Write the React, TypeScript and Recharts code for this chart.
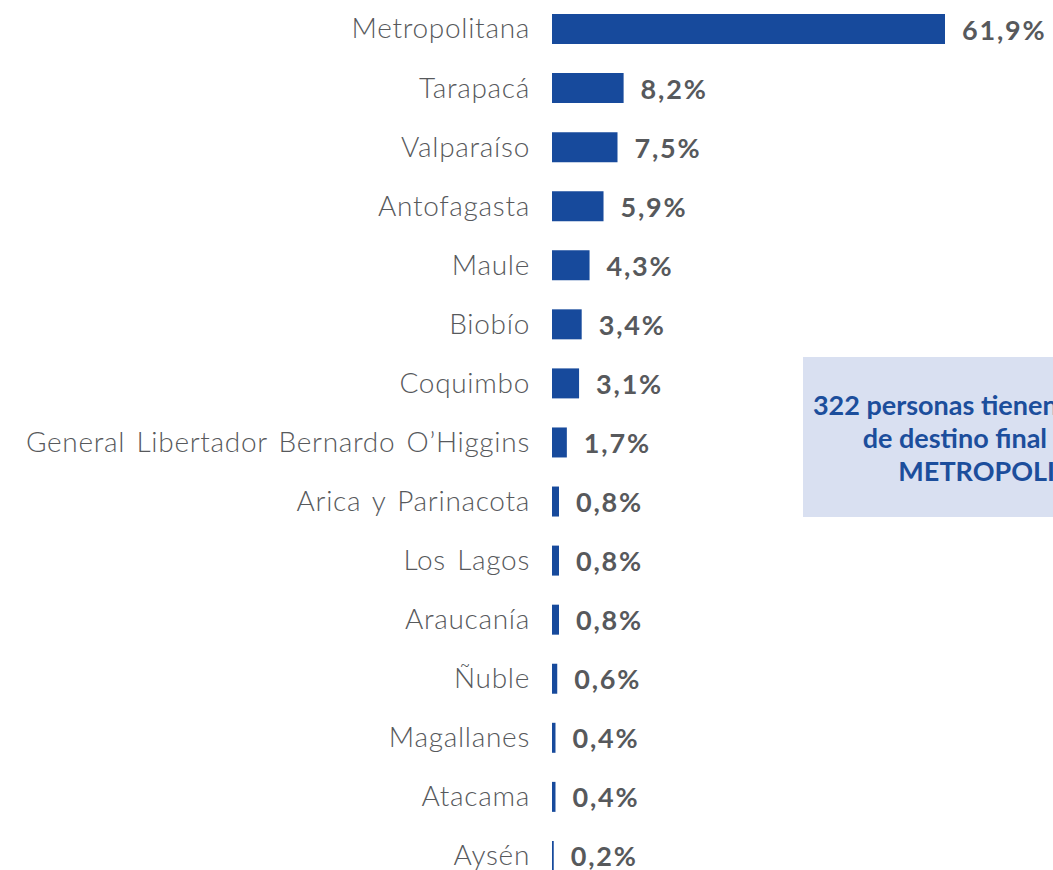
import { BarChart, Bar, XAxis, YAxis, LabelList } from "recharts";

// Región de destino final — share of people (%)
const regions = [
  "Metropolitana",
  "Tarapacá",
  "Valparaíso",
  "Antofagasta",
  "Maule",
  "Biobío",
  "Coquimbo",
  "General Libertador Bernardo O’Higgins",
  "Arica y Parinacota",
  "Los Lagos",
  "Araucanía",
  "Ñuble",
  "Magallanes",
  "Atacama",
  "Aysén",
];
const shares = [61.9, 8.2, 7.5, 5.9, 4.3, 3.4, 3.1, 1.7, 0.8, 0.8, 0.8, 0.6, 0.4, 0.4, 0.2];

const noteLines = ["322 personas tienen como región", "de destino final la Región", "METROPOLITANA"];

const BAR_COLOR = "#174a9c";
const TEXT_GRAY = "#57595c";
const CHART_W = 1053;
const CHART_H = 886;
const AXIS_W = 552;
const MARGIN_RIGHT = 108;
const PLOT_RIGHT = CHART_W - MARGIN_RIGHT;

const data = regions.map((region, i) => ({ region, share: shares[i] }));

const fmt = (v: number) => v.toFixed(1).replace(".", ",") + "%";

// the biggest bar is cut at the plot edge, so its label follows the visible end
function ValueLabel(props: any) {
  const { x, y, width, height, value } = props;
  const end = Math.min(Number(x) + Number(width), PLOT_RIGHT);
  return (
    <text
      x={end + 17}
      y={Number(y) + Number(height) / 2}
      dominantBaseline="central"
      fill={TEXT_GRAY}
      fontFamily="Lato, 'Open Sans', sans-serif"
      fontWeight={700}
      fontSize={27}
      letterSpacing={1.8}
    >
      {fmt(Number(value))}
    </text>
  );
}

export default function App() {
  return (
    <div
      style={{
        position: "absolute",
        top: 0,
        left: 0,
        width: 1053,
        height: 870,
        overflow: "hidden",
        background: "#fff",
      }}
    >
      <div style={{ position: "absolute", top: -1, left: 0 }}>
        <BarChart
          layout="vertical"
          width={CHART_W}
          height={CHART_H}
          data={data}
          margin={{ top: 0, right: MARGIN_RIGHT, bottom: 0, left: 0 }}
          barSize={30}
        >
          <XAxis type="number" domain={[0, 45]} allowDataOverflow hide />
          <YAxis
            type="category"
            dataKey="region"
            width={AXIS_W}
            axisLine={false}
            tickLine={false}
            tickSize={0}
            tickMargin={22}
            interval={0}
            tick={{
              fill: TEXT_GRAY,
              fontSize: 28,
              fontWeight: 300,
              letterSpacing: 0.7,
              wordSpacing: 3,
              fontFamily: "Lato, 'Open Sans', sans-serif",
            }}
          />
          <Bar dataKey="share" fill={BAR_COLOR} isAnimationActive={false}>
            <LabelList dataKey="share" content={<ValueLabel />} />
          </Bar>
        </BarChart>
      </div>
      <div
        style={{
          position: "absolute",
          left: 803,
          top: 357,
          width: 420,
          height: 160,
          background: "#d9e0f1",
          display: "flex",
          flexDirection: "column",
          justifyContent: "center",
          alignItems: "center",
          fontFamily: "Lato, 'Open Sans', sans-serif",
          fontWeight: 700,
          fontSize: 27,
          lineHeight: "33px",
          color: "#1c4e9c",
          textAlign: "center",
          whiteSpace: "nowrap",
        }}
      >
        {noteLines.map((line) => (
          <div key={line}>{line}</div>
        ))}
      </div>
    </div>
  );
}
